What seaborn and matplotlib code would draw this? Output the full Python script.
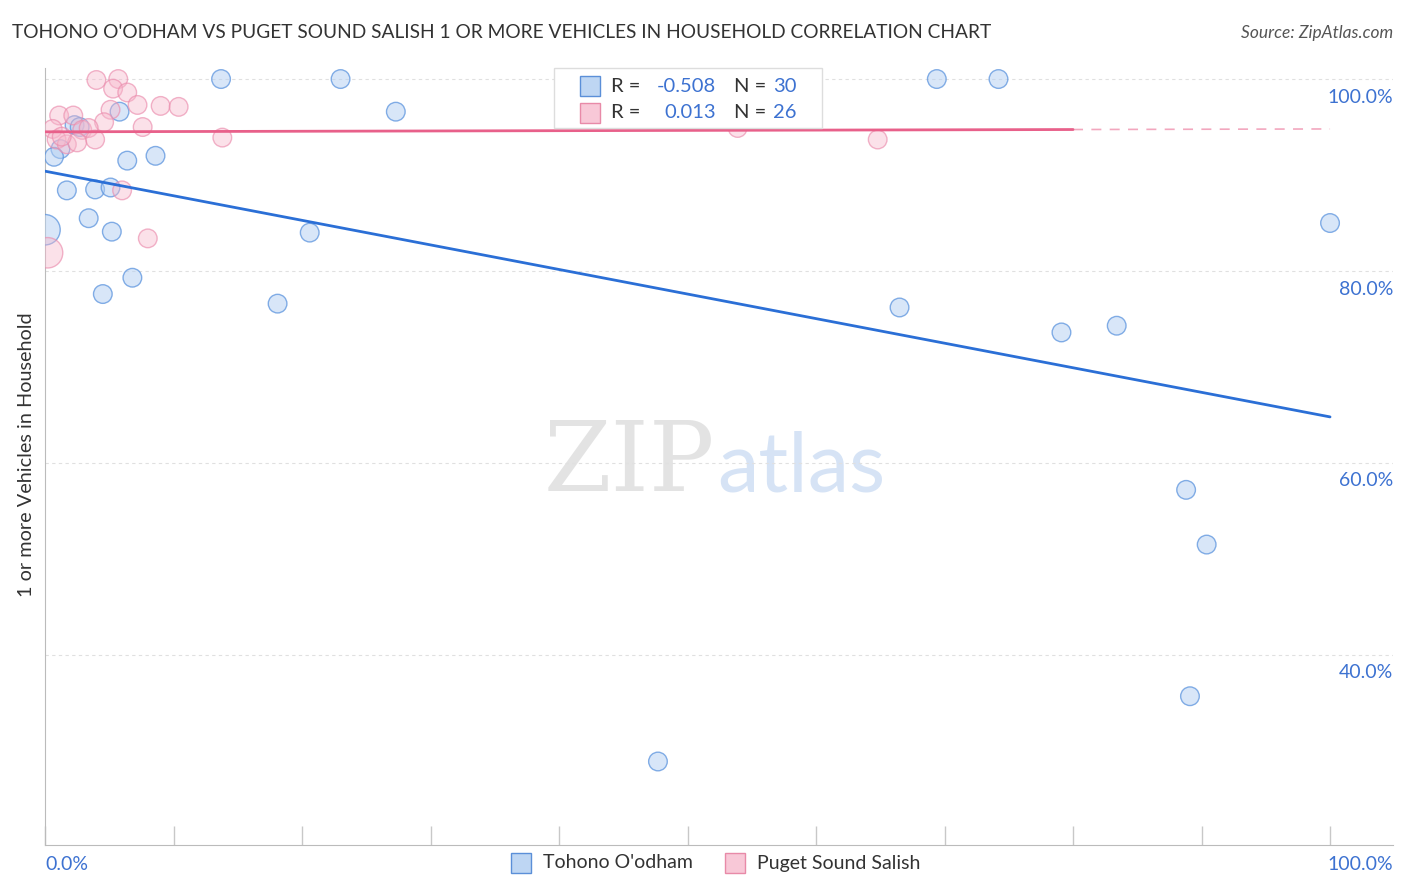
import numpy as np
import pandas as pd
import matplotlib
matplotlib.use("Agg")
import matplotlib.pyplot as plt
import seaborn as sns
from matplotlib.patches import Rectangle

# Tohono O'odham points (x %, y %)
tohono_x = [13.7, 23.0, 69.4, 74.2, 27.3, 5.8, 2.3, 2.7, 1.2, 0.7,
            6.4, 8.6, 1.7, 3.9, 5.1, 3.4, 5.2, 0.0, 4.5, 6.8,
            18.1, 20.6, 66.5, 79.1, 83.4, 100.0, 88.8, 90.4, 89.1, 47.7]
tohono_y = [100.0, 100.0, 100.0, 100.0, 96.6, 96.6, 95.2, 95.0, 92.7, 91.9,
            91.5, 92.0, 88.4, 88.5, 88.7, 85.5, 84.1, 84.3, 77.6, 79.3,
            76.6, 84.0, 76.2, 73.6, 74.3, 85.0, 57.2, 51.5, 35.7, 28.9]
tohono_big = [0] * 17 + [1] + [0] * 12

# Puget Sound Salish points
puget_x = [4.0, 5.7, 5.3, 6.4, 7.2, 9.0, 10.4, 5.1, 1.1, 2.2,
           4.6, 7.6, 0.6, 2.9, 3.4, 3.9, 0.9, 1.7, 2.5, 1.3,
           6.0, 8.0, 0.2, 13.8, 53.9, 64.8]
puget_y = [99.9, 100.0, 99.0, 98.6, 97.3, 97.2, 97.1, 96.8, 96.2, 96.2,
           95.5, 95.0, 94.8, 94.7, 94.9, 93.7, 93.7, 93.2, 93.4, 94.0,
           88.4, 83.4, 81.9, 93.9, 94.9, 93.7]
puget_big = [0] * 22 + [1] + [0] * 3

# trend lines (value at x=0 and x=100)
tohono_trend = [90.4, 64.8]
puget_trend = [94.5, 94.8]
puget_solid_end = 80

y_ticks = [40, 60, 80, 100]
x_ticks = list(range(0, 101, 10))

BLUE = "#3d72d1"
TEXT = "#333333"

df_t = pd.DataFrame({"x": tohono_x, "y": tohono_y,
                     "sz": ["large" if b else "normal" for b in tohono_big]})
df_p = pd.DataFrame({"x": puget_x, "y": puget_y,
                     "sz": ["large" if b else "normal" for b in puget_big]})

sns.set_style("white")
plt.rcParams["font.family"] = ["Lato", "DejaVu Sans"]

fig = plt.figure(figsize=(14.06, 8.92), dpi=100)
ax = fig.add_axes([45 / 1406, 1 - 845 / 892, (1393 - 45) / 1406, (845 - 68) / 892])

sizes = {"normal": 180, "large": 480}
sns.scatterplot(data=df_t, x="x", y="y", size="sz", sizes=sizes, ax=ax, legend=False, zorder=3)
sns.scatterplot(data=df_p, x="x", y="y", size="sz", sizes=sizes, ax=ax, legend=False, zorder=4)
cols = ax.collections
cols[0].set_facecolor((0.70, 0.81, 0.95, 0.5))
cols[0].set_edgecolor((0.36, 0.58, 0.87, 0.75))
cols[0].set_linewidth(1.0)
cols[1].set_facecolor((0.97, 0.72, 0.80, 0.42))
cols[1].set_edgecolor((0.92, 0.55, 0.68, 0.65))
cols[1].set_linewidth(1.0)

# trend lines
ax.plot([0, 100], tohono_trend, color="#2b6fd6", lw=2, zorder=5)
ps = puget_trend[0] + (puget_trend[1] - puget_trend[0]) * puget_solid_end / 100
ax.plot([0, puget_solid_end], [puget_trend[0], ps], color="#e8608a", lw=2, zorder=5)
ax.plot([puget_solid_end, 100], [ps, puget_trend[1]], color="#e8608a", lw=1.2,
        ls=(0, (6, 5)), alpha=0.55, zorder=5)

ax.set_xlim(0, 104.9)
ax.set_ylim(20.2, 101.15)

for v in y_ticks:
    ax.axhline(v, color="#e0e0e0", lw=0.8, ls=(0, (3, 3)), zorder=1)
    ax.annotate(f"{v:.1f}%", xy=(1, v), xycoords=("axes fraction", "data"),
                xytext=(0, -18), textcoords="offset pixels", ha="right", va="center",
                color=BLUE, fontsize=14)

ax.set_yticks([])
ax.set_xticks(x_ticks)
ax.set_xticklabels([])
ax.tick_params(axis="x", direction="in", length=14, color="#c8c8c8", width=1, bottom=True)
ax.set_xlabel("")
ax.set_ylabel("")
for s in ["top", "right"]:
    ax.spines[s].set_visible(False)
ax.spines["left"].set_color("#bbbbbb")
ax.spines["bottom"].set_color("#bbbbbb")

ax.text(0, -0.014, "0.0%", transform=ax.transAxes, ha="left", va="top", color=BLUE, fontsize=14)
ax.text(1, -0.014, "100.0%", transform=ax.transAxes, ha="right", va="top", color=BLUE, fontsize=14)

# watermark
ax.text(0.497, 0.49, "ZIP", transform=ax.transAxes, ha="right", va="center",
        family="DejaVu Serif", fontsize=70, color="#d8d8d8", alpha=0.7, zorder=0)
ax.text(0.499, 0.485, "atlas", transform=ax.transAxes, ha="left", va="center",
        fontsize=60, color="#c5d8f2", alpha=0.7, zorder=0)

# titles
fig.text(12 / 1406, 1 - 33 / 892, "TOHONO O'ODHAM VS PUGET SOUND SALISH 1 OR MORE VEHICLES IN HOUSEHOLD CORRELATION CHART",
         ha="left", va="center", fontsize=13.8, color=TEXT)
fig.text(1393 / 1406, 1 - 33 / 892, "Source: ZipAtlas.com", ha="right", va="center",
         fontsize=12.5, color="#555555", style="italic")
fig.text(27 / 1406, 1 - 455 / 892, "1 or more Vehicles in Household", rotation=90,
         ha="center", va="center", fontsize=14.3, color=TEXT)

# top legend box
fig.patches.append(Rectangle((554 / 1406, 1 - 128 / 892), 268 / 1406, 60 / 892,
                             transform=fig.transFigure, facecolor="white",
                             edgecolor="#dddddd", lw=1, zorder=6))
rows = [(86, (0.70, 0.81, 0.95, 0.85), "#5b8fd8", "-0.508", "30"),
        (113, (0.97, 0.75, 0.82, 0.85), "#e88aa8", "0.013", "26")]
for yy, fc, ec, r, n in rows:
    fig.patches.append(Rectangle((580 / 1406, 1 - (yy + 10) / 892), 20 / 1406, 20 / 892,
                                 transform=fig.transFigure, facecolor=fc, edgecolor=ec,
                                 lw=1, zorder=7))
    fy = 1 - yy / 892
    fig.text(611 / 1406, fy, "R =", ha="left", va="center", fontsize=14.5, color=TEXT, zorder=8)
    fig.text(716 / 1406, fy, r, ha="right", va="center", fontsize=14.5, color=BLUE, zorder=8)
    fig.text(734 / 1406, fy, "N =", ha="left", va="center", fontsize=14.5, color=TEXT, zorder=8)
    fig.text(797 / 1406, fy, n, ha="right", va="center", fontsize=14.5, color=BLUE, zorder=8)

# bottom legend
leg = [(511, (0.70, 0.81, 0.95, 0.85), "#5b8fd8", "Tohono O'odham"),
       (725, (0.97, 0.75, 0.82, 0.85), "#e88aa8", "Puget Sound Salish")]
for lx, fc, ec, lab in leg:
    fig.patches.append(Rectangle((lx / 1406, 1 - 873 / 892), 20 / 1406, 20 / 892,
                                 transform=fig.transFigure, facecolor=fc, edgecolor=ec, lw=1))
    fig.text((lx + 32) / 1406, 1 - 863 / 892, lab, ha="left", va="center", fontsize=14, color=TEXT)

fig.savefig("out.png", dpi=100)
